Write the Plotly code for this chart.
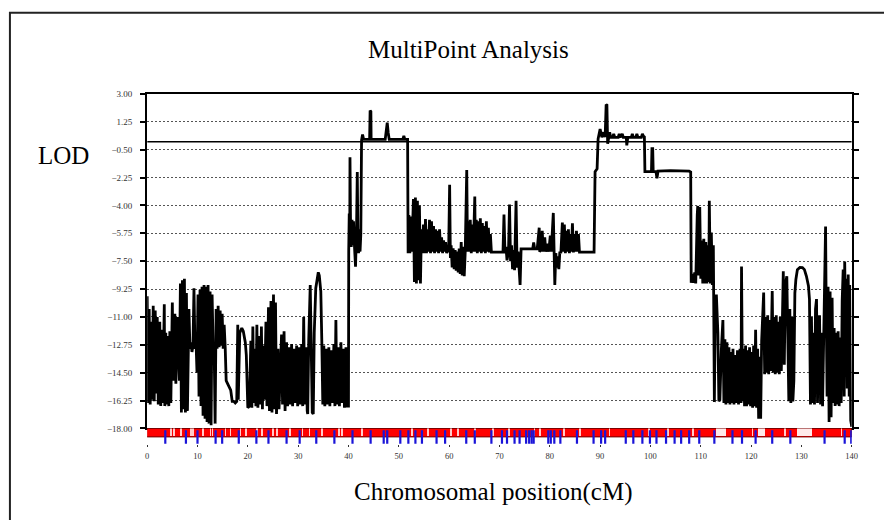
import plotly.graph_objects as go

# ---------------- text ----------------
title_text = "MultiPoint Analysis"
y_label = "LOD"
x_label = "Chromosomal position(cM)"

# ---------------- axes ----------------
lod_ticks = [3.00, 1.25, -0.50, -2.25, -4.00, -5.75, -7.50, -9.25,
             -11.00, -12.75, -14.50, -16.25, -18.00]
cm_ticks = [0, 10, 20, 30, 40, 50, 60, 70, 80, 90, 100, 110, 120, 130, 140]
threshold = 0.0

# ---------------- LOD curve (position cM, LOD) ----------------
region_a = [  # 0 - 40 cM
    (0.0, -9.7), (0.2, -16.4), (0.4, -10.5), (0.6, -16.5), (0.8, -11.3), (1.0, -16.2),
    (1.2, -10.3), (1.4, -16.3), (1.6, -10.6), (1.8, -15.8), (2.0, -11.0), (2.2, -16.5),
    (2.5, -11.3), (2.7, -16.6), (2.9, -11.8), (3.1, -16.4), (3.4, -10.2), (3.5, -16.6),
    (3.7, -12.0), (3.9, -16.5), (4.1, -12.2), (4.3, -16.6), (4.5, -11.9), (4.7, -16.4),
    (5.0, -10.1), (5.2, -15.0), (5.5, -10.8), (5.7, -15.2), (6.0, -11.0), (6.2, -14.0),
    (6.4, -15.0), (6.6, -8.9), (6.8, -17.0), (7.0, -8.7), (7.2, -16.8), (7.4, -8.6),
    (7.6, -17.0), (7.8, -9.5), (8.0, -16.9), (8.3, -10.5), (8.5, -13.0), (8.7, -12.6),
    (8.9, -13.2), (9.1, -12.8), (9.3, -9.2), (9.5, -13.0), (9.7, -12.5), (9.9, -14.5),
    (10.1, -9.6), (10.3, -16.0), (10.5, -9.3), (10.7, -16.6), (10.9, -9.1), (11.1, -17.2),
    (11.3, -9.0), (11.5, -17.4), (11.7, -9.1), (11.9, -17.6), (12.1, -9.0), (12.3, -17.7),
    (12.5, -9.4), (12.7, -17.8), (12.9, -9.6), (13.1, -12.8), (13.3, -12.7), (13.5, -17.7),
    (13.7, -10.5), (13.9, -13.0), (14.1, -10.3), (14.3, -12.9), (14.5, -10.6), (14.7, -12.8),
    (14.9, -10.8), (15.1, -13.0), (15.3, -11.5), (15.5, -12.9), (15.7, -15.0), (16.0, -15.2),
    (16.3, -15.4), (16.6, -15.6), (16.9, -16.3), (17.2, -16.3), (17.5, -16.4), (17.8, -16.3),
    (18.0, -11.5), (18.1, -16.2), (18.4, -12.0), (18.8, -11.7), (19.1, -11.9), (19.5, -12.6),
    (19.7, -13.4), (20.0, -16.7), (20.3, -16.6), (20.6, -12.5), (20.8, -16.7), (21.0, -11.6),
    (21.2, -16.4), (21.4, -13.0), (21.6, -16.6), (21.8, -11.5), (22.0, -16.7), (22.3, -12.2),
    (22.5, -16.5), (22.7, -11.6), (22.9, -16.8), (23.1, -12.8), (23.3, -16.2), (23.6, -11.3),
    (23.8, -16.6), (24.1, -10.4), (24.3, -16.9), (24.6, -10.0), (24.8, -17.0), (25.1, -9.6),
    (25.3, -16.8), (25.5, -10.1), (25.7, -17.1), (26.0, -13.0), (26.2, -16.8), (26.5, -14.0),
    (26.7, -12.1), (26.9, -16.5), (27.2, -11.9), (27.4, -16.9), (27.7, -12.6), (27.9, -16.6),
    (28.2, -12.9), (28.4, -16.5), (28.7, -12.7), (28.9, -16.6), (29.2, -13.0), (29.4, -16.4),
    (29.7, -12.8), (29.9, -16.6), (30.2, -12.9), (30.4, -16.5), (30.7, -12.7), (30.9, -16.6),
    (31.1, -11.0), (31.3, -16.5), (31.6, -12.9), (31.8, -16.9), (31.9, -17.1), (32.1, -12.5),
    (32.4, -9.0), (32.6, -13.0), (32.8, -17.0), (33.0, -17.1), (33.2, -12.0), (33.5, -9.2),
    (33.8, -8.4), (34.0, -8.2), (34.2, -8.4), (34.5, -9.4), (34.7, -12.5), (34.9, -16.5),
    (35.1, -12.8), (35.3, -16.6), (35.6, -13.0), (35.8, -16.5), (36.1, -12.9), (36.3, -16.6),
    (36.6, -13.1), (36.8, -16.4), (37.1, -12.7), (37.3, -16.6), (37.5, -11.2), (37.7, -16.5),
    (38.0, -12.9), (38.2, -16.6), (38.5, -12.6), (38.7, -16.4), (39.0, -13.0), (39.2, -16.7),
    (39.5, -12.9), (39.7, -16.6), (39.9, -16.6),
]

region_b = [  # 40 - 52 cM
    (40.0, -16.6), (40.05, -6.8), (40.15, -4.5), (40.25, -6.2), (40.3, -0.97), (40.4, -4.8),
    (40.55, -6.6), (40.7, -4.9), (40.85, -6.5), (41.0, -5.0), (41.2, -6.6), (41.4, -7.85),
    (41.6, -5.5), (41.75, -1.9), (41.85, -5.4), (42.0, -7.0), (42.15, -5.5), (42.3, -6.9),
    (42.45, -5.8), (42.6, 0.1), (42.8, 0.45), (43.0, 0.15), (44.2, 0.15), (44.3, 1.96),
    (44.45, 1.9), (44.5, 0.15), (47.3, 0.15), (47.5, 0.6), (47.7, 1.2), (47.9, 0.55),
    (48.1, 0.15), (50.8, 0.15), (51.0, 0.36), (51.2, 0.15), (51.75, 0.15),
]

region_c = [  # 52 - 89 cM
    (51.85, -7.0), (52.0, -4.6), (52.2, -7.0), (52.4, -4.7), (52.6, -6.9), (52.9, -3.6),
    (53.1, -8.8), (53.3, -3.5), (53.5, -8.9), (53.7, -3.7), (53.9, -8.7), (54.1, -4.0),
    (54.3, -8.9), (54.5, -5.5), (54.7, -7.0), (54.9, -5.2), (55.1, -7.0), (55.3, -4.85),
    (55.5, -7.0), (55.7, -5.5), (55.9, -6.9), (56.1, -4.9), (56.3, -7.0), (56.5, -5.0),
    (56.7, -6.9), (56.9, -5.3), (57.1, -7.0), (57.3, -5.5), (57.5, -6.9), (57.7, -5.6),
    (57.9, -7.0), (58.1, -5.5), (58.3, -6.9), (58.5, -6.0), (58.7, -7.0), (58.9, -6.2),
    (59.1, -6.9), (59.3, -6.3), (59.5, -7.0), (59.7, -6.5), (59.9, -6.95), (60.1, -2.7),
    (60.25, -7.3), (60.4, -6.5), (60.6, -7.9), (60.8, -6.7), (61.0, -8.0), (61.2, -6.8),
    (61.4, -8.1), (61.6, -6.9), (61.8, -8.2), (62.0, -6.7), (62.2, -8.3), (62.4, -6.3),
    (62.6, -8.4), (62.8, -6.6), (63.0, -8.45), (63.2, -6.9), (63.5, -1.77), (63.65, -6.9),
    (63.8, -5.0), (64.0, -6.9), (64.2, -4.9), (64.4, -7.0), (64.6, -5.2), (64.8, -6.9),
    (65.1, -3.44), (65.2, -6.9), (65.4, -4.9), (65.6, -7.0), (65.8, -5.0), (66.0, -6.9),
    (66.2, -4.8), (66.4, -7.0), (66.6, -5.1), (66.8, -6.9), (67.0, -5.3), (67.2, -7.0),
    (67.4, -5.0), (67.6, -6.9), (67.8, -5.4), (68.0, -6.95), (68.2, -5.8), (68.4, -6.93),
    (70.7, -6.93), (70.9, -4.57), (71.1, -7.0), (71.3, -6.6), (71.5, -7.45), (71.8, -6.9),
    (72.0, -3.95), (72.2, -7.5), (72.4, -6.5), (72.6, -8.0), (72.8, -6.8), (73.0, -8.06),
    (73.3, -3.7), (73.5, -7.9), (73.7, -6.9), (74.0, -8.1), (74.1, -8.99), (74.3, -6.73),
    (76.6, -6.73), (76.8, -6.32), (77.0, -6.73), (77.5, -6.73), (77.9, -5.4), (78.0, -6.9),
    (78.3, -6.8), (78.5, -5.6), (78.7, -6.9), (79.0, -6.0), (79.2, -6.9), (79.5, -6.4),
    (79.8, -6.9), (80.1, -5.9), (80.3, -6.9), (80.7, -4.47), (80.85, -7.2), (81.0, -8.99),
    (81.2, -7.0), (81.4, -7.9), (81.6, -7.2), (81.8, -8.0), (82.0, -6.9), (82.2, -7.0),
    (82.5, -5.08), (82.7, -6.9), (82.9, -5.2), (83.1, -7.0), (83.3, -5.6), (83.5, -6.9),
    (83.7, -5.5), (83.9, -7.0), (84.1, -5.8), (84.3, -6.9), (84.5, -5.12), (84.7, -6.95),
    (84.9, -5.8), (85.1, -6.9), (85.3, -5.6), (85.5, -6.9), (85.7, -5.8), (85.9, -6.93),
    (88.8, -6.93),
]

region_d = [  # 89 - 108 cM
    (89.0, -1.88), (89.4, -1.7), (89.6, 0.18), (90.0, 0.79), (90.35, 0.28), (90.7, 0.59),
    (91.0, 0.3), (91.2, 2.33), (91.35, 2.3), (91.5, -0.13), (91.7, 0.4), (91.9, 0.59),
    (92.1, 0.28), (92.5, 0.28), (92.7, 0.49), (92.9, 0.28), (93.6, 0.28), (93.8, 0.49),
    (94.0, 0.28), (94.4, 0.49), (94.6, 0.28), (95.2, 0.28), (95.3, -0.23), (95.5, 0.28),
    (96.2, 0.28), (96.4, 0.49), (96.6, 0.28), (97.1, 0.28), (97.3, 0.49), (97.5, 0.28),
    (98.2, 0.28), (98.4, 0.49), (98.6, 0.35), (98.8, 0.3), (98.9, -1.88), (100.2, -1.88),
    (100.3, -0.44), (100.45, -0.44), (100.55, -1.88), (101.1, -1.88), (101.3, -2.29),
    (101.5, -1.85), (104.0, -1.82), (106.0, -1.82), (107.7, -1.85), (108.0, -1.9),
]

region_e = [  # 108 - 140 cM
    (108.1, -8.86), (108.3, -8.3), (108.5, -8.86), (108.8, -8.2), (109.0, -8.9), (109.3, -4.6),
    (109.4, -4.03), (109.6, -8.4), (109.8, -4.1), (110.0, -8.6), (110.2, -6.2), (110.4, -8.9),
    (110.6, -6.1), (110.8, -8.9), (111.0, -6.3), (111.2, -8.9), (111.4, -6.5), (111.6, -8.8),
    (111.7, -3.7), (111.9, -8.9), (112.1, -5.7), (112.3, -9.0), (112.5, -6.5), (112.7, -16.35),
    (112.9, -9.9), (113.1, -9.6), (113.4, -12.0), (113.6, -16.3), (113.8, -16.2), (114.1, -13.0),
    (114.4, -11.2), (114.6, -16.4), (114.8, -12.4), (115.0, -16.5), (115.2, -12.6), (115.4, -16.4),
    (115.6, -12.9), (115.8, -16.5), (116.0, -13.2), (116.2, -16.4), (116.4, -13.0), (116.6, -16.5),
    (116.8, -13.4), (117.0, -16.4), (117.3, -13.1), (117.5, -16.5), (117.8, -13.0), (118.0, -16.4),
    (118.1, -7.83), (118.3, -16.3), (118.5, -13.0), (118.7, -16.6), (118.9, -12.8), (119.1, -16.6),
    (119.3, -13.1), (119.5, -16.5), (119.7, -12.9), (119.9, -16.6), (120.1, -13.2), (120.3, -16.7),
    (120.5, -12.8), (120.7, -16.6), (120.9, -11.8), (121.1, -16.7), (121.3, -13.0), (121.5, -17.4),
    (121.7, -13.5), (121.9, -17.4), (122.1, -12.5), (122.5, -9.47), (122.7, -14.6), (122.9, -11.0),
    (123.1, -14.5), (123.3, -10.9), (123.5, -14.6), (123.7, -11.2), (123.9, -14.4), (124.2, -9.37),
    (124.4, -14.5), (124.6, -11.0), (124.8, -14.6), (125.0, -10.9), (125.2, -14.5), (125.4, -11.3),
    (125.6, -14.6), (125.8, -11.0), (126.0, -14.4), (126.2, -11.5), (126.4, -8.14), (126.6, -14.0),
    (126.8, -9.0), (127.1, -8.45), (127.3, -13.0), (127.5, -16.3), (127.7, -10.5), (127.9, -16.4),
    (128.1, -11.0), (128.3, -16.3), (128.5, -15.0), (128.7, -9.5), (128.9, -8.65), (129.2, -8.03),
    (129.7, -7.89), (130.2, -7.9), (130.6, -8.03), (131.0, -8.45), (131.4, -9.06), (131.6, -9.9),
    (131.8, -16.5), (132.0, -11.0), (132.2, -16.4), (132.4, -12.0), (132.6, -16.5), (132.8, -10.5),
    (133.0, -9.88), (133.2, -16.4), (133.4, -11.5), (133.6, -10.9), (133.8, -16.5), (134.0, -12.0),
    (134.2, -16.6), (134.5, -9.8), (134.8, -5.32), (134.9, -9.5), (135.1, -16.0), (135.3, -9.1),
    (135.5, -17.6), (135.7, -9.4), (135.9, -17.3), (136.1, -9.8), (136.3, -16.4), (136.5, -11.7),
    (136.7, -16.6), (136.9, -12.0), (137.1, -16.5), (137.3, -11.9), (137.5, -16.6), (137.7, -12.3),
    (137.9, -16.4), (138.1, -10.0), (138.3, -8.03), (138.5, -16.0), (138.6, -7.52), (138.8, -12.0),
    (138.9, -8.6), (139.1, -15.5), (139.3, -8.34), (139.5, -16.0), (139.6, -9.0), (139.8, -17.5),
    (140.0, -17.9),
]

# ---------------- marker band ----------------
marker_cm = [3.6, 7.7, 10.0, 13.6, 14.9, 18.2, 21.7, 24.1, 27.7, 30.3, 33.6, 37.2, 40.8, 44.4,
             47.0, 47.7, 50.3, 51.9, 53.3, 54.6, 57.5, 59.2, 63.4, 65.1, 68.4, 70.5, 71.5,
             73.0, 74.0, 75.3, 75.9, 76.4, 76.8, 79.7, 80.2, 80.9, 82.1, 85.4, 88.7, 90.2,
             91.0, 95.1, 96.6, 98.4, 99.9, 101.2, 103.1, 104.8, 106.1, 107.7, 109.7, 112.7,
             116.3, 118.2, 120.9, 124.2, 127.8, 134.6, 138.6, 139.9]
light_cm = [4.7, 5.3, 6.7, 8.7, 9.1, 11.2, 12.6, 13.0, 15.6, 16.6, 18.6, 19.6, 21.9, 22.9,
            25.1, 25.9, 28.4, 30.9, 32.3, 34.7, 38.2, 38.8, 42.7, 52.6, 55.9, 60.4, 61.8,
            65.2, 68.7, 72.0, 77.0, 78.1, 82.9, 86.0, 91.9, 99.8, 103.5, 108.5, 120.3,
            126.8, 138.0]
light_block_start = [113.0, 121.5, 129.1]
light_block_end = [115.0, 122.8, 132.1]

# ---------------- geometry (pixels of the 884x520 page) ----------------
W, H = 884, 520
px_left, px_right = 146.5, 857.5
px_top, px_bottom = 90.7, 431.7
px_band_bottom = 448.0

def py(p):
    return 1 - p / H

curve = region_a + region_b + region_c + region_d + region_e
cm_vals = [c for c, _ in curve]
lod_vals = [v for _, v in curve]

fig = go.Figure()

# red band (bar spanning the whole axis)
fig.add_trace(go.Bar(x=[(cm_ticks[0] + cm_ticks[-1]) / 2], y=[0.57], base=0.43,
                     width=[cm_ticks[-1] - cm_ticks[0]],
                     marker=dict(color="#ff0000", line=dict(color="#700000", width=1)),
                     hoverinfo="skip", xaxis="x2", yaxis="y2"))
# light stripes
fig.add_trace(go.Bar(x=light_cm, y=[0.5] * len(light_cm), base=0.47, width=0.35,
                     marker=dict(color="rgba(255,225,225,0.9)", line=dict(width=0)),
                     hoverinfo="skip", xaxis="x2", yaxis="y2"))
fig.add_trace(go.Bar(x=[(s + e) / 2 for s, e in zip(light_block_start, light_block_end)],
                     y=[0.5] * len(light_block_start), base=0.47,
                     width=[e - s for s, e in zip(light_block_start, light_block_end)],
                     marker=dict(color="rgba(255,245,245,0.95)", line=dict(width=0)),
                     hoverinfo="skip", xaxis="x2", yaxis="y2"))
# blue marker ticks
bx, by = [], []
for m in marker_cm:
    bx += [m, m, None]
    by += [0.04, 0.88, None]
fig.add_trace(go.Scatter(x=bx, y=by, mode="lines", line=dict(color="#1a14d8", width=2.2),
                         hoverinfo="skip", xaxis="x2", yaxis="y2"))

fig.add_trace(go.Scatter(x=[cm_ticks[0], cm_ticks[-1]], y=[threshold, threshold], mode="lines",
                         line=dict(color="black", width=1.5), hoverinfo="skip",
                         xaxis="x", yaxis="y"))
fig.add_trace(go.Scatter(x=cm_vals, y=lod_vals, mode="lines",
                         line=dict(color="black", width=2.8), hoverinfo="skip",
                         xaxis="x", yaxis="y"))

serif = "Liberation Serif, Times New Roman, serif"
xdom = [px_left / W, px_right / W]

fig.update_layout(
    width=W, height=H, margin=dict(l=0, r=0, t=0, b=0),
    paper_bgcolor="white", plot_bgcolor="white", showlegend=False,
    barmode="overlay", bargap=0,
    xaxis=dict(domain=xdom, range=[0, 140], anchor="y", showline=True, mirror=True,
               linecolor="black", linewidth=2, showgrid=False, zeroline=False,
               showticklabels=False, ticks=""),
    yaxis=dict(domain=[py(px_bottom), py(px_top)], range=[-18, 3], anchor="x",
               tickvals=lod_ticks, tickformat=".2f", showline=True, mirror="ticks",
               linecolor="black", linewidth=2, ticks="outside", ticklen=5, tickwidth=2,
               tickcolor="black", showgrid=True, gridcolor="#555", griddash="1.5px,2.5px",
               gridwidth=1, zeroline=False, ticklabelstandoff=6,
               tickfont=dict(family=serif, size=9, color="#333")),
    xaxis2=dict(domain=xdom, range=[0, 140], anchor="y2", tickvals=cm_ticks,
                ticks="outside", ticklen=2, tickcolor="#333", showline=False,
                showgrid=False, zeroline=False, ticklabelstandoff=1,
                tickfont=dict(family=serif, size=8.5, color="#333")),
    yaxis2=dict(domain=[py(px_band_bottom), py(px_bottom)], range=[0, 1], anchor="x2",
                visible=False),
    annotations=[
        dict(text=title_text, x=471 / W, y=py(45), xref="paper", yref="paper",
             showarrow=False, xanchor="center", yanchor="middle",
             font=dict(family=serif, size=25, color="black")),
        dict(text=y_label, x=62 / W, y=py(153), xref="paper", yref="paper",
             showarrow=False, xanchor="center", yanchor="middle",
             font=dict(family=serif, size=25, color="black")),
        dict(text=x_label, x=495 / W, y=py(497), xref="paper", yref="paper",
             showarrow=False, xanchor="center", yanchor="middle",
             font=dict(family=serif, size=25, color="black")),
    ],
    shapes=[
        dict(type="rect", xref="paper", yref="paper", x0=8 / W, x1=1.2, y0=-0.2,
             y1=py(8), line=dict(color="#222", width=2), fillcolor="rgba(0,0,0,0)",
             layer="below"),
    ],
)

fig.write_html("out.html")
